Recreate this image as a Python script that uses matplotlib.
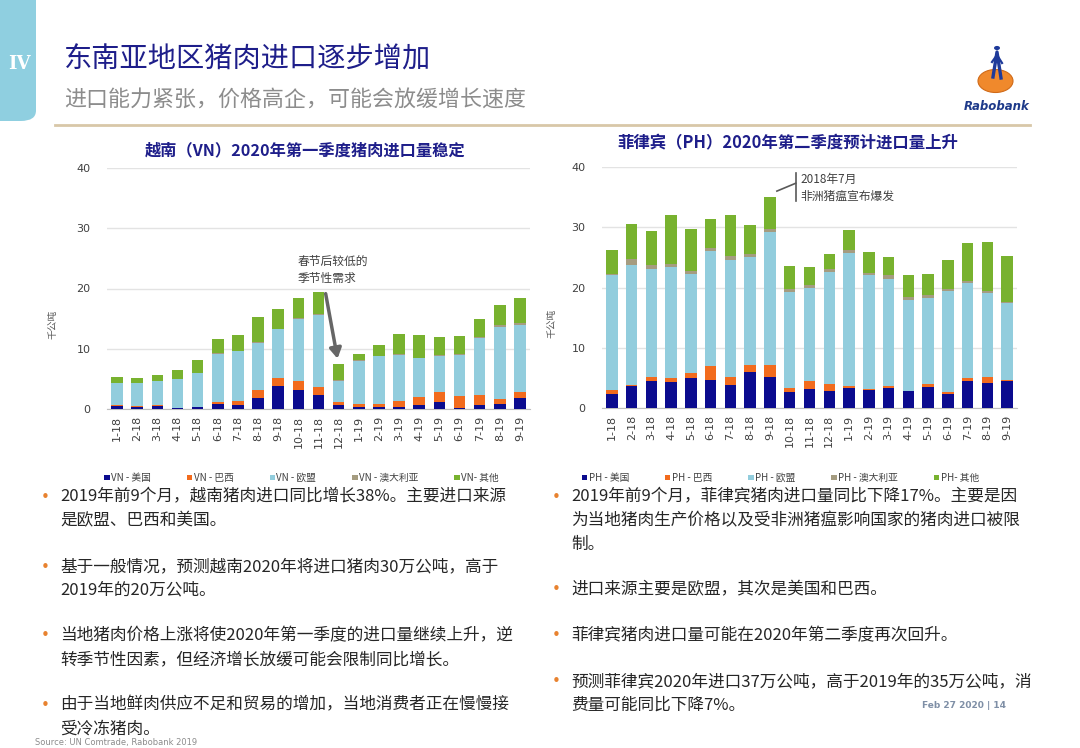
import matplotlib
matplotlib.use("Agg")
import matplotlib.pyplot as plt
from matplotlib.patches import FancyBboxPatch, Circle, Ellipse
import numpy as np

plt.rcParams['font.family'] = ['Noto Sans CJK SC', 'DejaVu Sans']

months = ["1-18", "2-18", "3-18", "4-18", "5-18", "6-18", "7-18", "8-18", "9-18", "10-18", "11-18", "12-18",
          "1-19", "2-19", "3-19", "4-19", "5-19", "6-19", "7-19", "8-19", "9-19"]

# Vietnam (thousand tonnes)
vn_us = [0.55, 0.4, 0.5, 0.1, 0.3, 0.9, 0.6, 1.8, 3.8, 3.1, 2.4, 0.7, 0.4, 0.4, 0.3, 0.6, 1.1, 0.2, 0.7, 0.8, 1.8]
vn_br = [0.1, 0.1, 0.1, 0.1, 0.1, 0.3, 0.8, 1.3, 1.4, 1.6, 1.3, 0.4, 0.4, 0.5, 1.0, 1.4, 1.7, 1.9, 1.7, 0.8, 1.0]
vn_eu = [3.65, 3.8, 4.0, 4.7, 5.6, 8.0, 8.2, 7.9, 8.0, 10.3, 11.9, 3.6, 7.2, 7.9, 7.7, 6.4, 6.0, 6.9, 9.4, 12.0, 11.2]
vn_au = [0.05, 0.05, 0.05, 0.05, 0.05, 0.1, 0.1, 0.1, 0.1, 0.1, 0.1, 0.05, 0.05, 0.05, 0.1, 0.1, 0.1, 0.1, 0.1, 0.3, 0.2]
vn_ot = [0.9, 0.85, 1.05, 1.45, 2.05, 2.3, 2.5, 4.1, 3.3, 3.4, 3.8, 2.65, 1.15, 1.75, 3.4, 3.7, 3.1, 3.0, 3.1, 3.3, 4.3]

# Philippines (thousand tonnes)
ph_us = [2.3, 3.6, 4.5, 4.3, 4.9, 4.6, 3.8, 5.9, 5.2, 2.6, 3.1, 2.9, 3.3, 3.0, 3.3, 2.8, 3.5, 2.4, 4.4, 4.2, 4.4]
ph_br = [0.7, 0.3, 0.6, 0.7, 0.9, 2.3, 1.3, 1.2, 1.9, 0.8, 1.4, 1.1, 0.4, 0.1, 0.3, 0.1, 0.5, 0.2, 0.5, 0.9, 0.3]
ph_eu = [19.0, 19.9, 18.0, 18.4, 16.4, 19.2, 19.5, 17.9, 22.1, 15.9, 15.5, 18.5, 22.1, 18.9, 17.8, 15.1, 14.3, 16.8, 15.8, 14.0, 12.7]
ph_au = [0.3, 1.0, 0.6, 0.5, 0.5, 0.5, 0.7, 0.6, 0.5, 0.4, 0.4, 0.5, 0.4, 0.4, 0.6, 0.5, 0.4, 0.4, 0.4, 0.3, 0.2]
ph_ot = [4.0, 5.8, 5.6, 8.1, 7.0, 4.8, 6.8, 4.7, 5.4, 3.9, 3.0, 2.6, 3.3, 3.5, 3.0, 3.5, 3.5, 4.7, 6.3, 8.2, 7.7]

vn_labels = ["VN - 美国", "VN - 巴西", "VN - 欧盟", "VN - 澳大利亚", "VN- 其他"]
ph_labels = ["PH - 美国", "PH - 巴西", "PH - 欧盟", "PH - 澳大利亚", "PH- 其他"]
colors = ["#0B0B8E", "#F26B1D", "#92CDDD", "#A59C80", "#78B22F"]

W, H = 1080, 748
fig = plt.figure(figsize=(W / 100, H / 100), dpi=100)
fig.patch.set_facecolor("white")


def fx(px):
    return px / W


def fy(py):
    return 1 - py / H


# ---------- header ----------
tab = FancyBboxPatch((-0.02, fy(121)), fx(36) + 0.02, fy(0) - fy(121) + 0.03,
                     boxstyle="round,pad=0,rounding_size=0.014", transform=fig.transFigure,
                     facecolor="#8FCFE0", edgecolor="none", zorder=0)
fig.patches.append(tab)
fig.text(fx(19), fy(64), "IV", color="white", fontsize=13, fontweight="bold",
         family="DejaVu Serif", ha="center", va="center")
fig.text(fx(64), fy(60), "东南亚地区猪肉进口逐步增加", color="#1E1E8A", fontsize=20.3, ha="left", va="center")
fig.text(fx(64), fy(101), "进口能力紧张，价格高企，可能会放缓增长速度", color="#8C8C8C", fontsize=15.8,
         ha="left", va="center")
fig.add_artist(plt.Line2D([fx(55), fx(1030)], [fy(125), fy(125)], color="#D8C7A8", lw=2,
                          transform=fig.transFigure))
# logo
fig.patches.append(Ellipse((fx(995.5), fy(81)), 35 / W, 23 / H, transform=fig.transFigure,
                           facecolor="#F0892C", edgecolor="#D06A18", lw=0.8))
fig.add_artist(plt.Line2D([fx(993), fx(997), fx(1001)], [fy(77), fy(52), fy(78)], color="#1E3A9A",
                          lw=2.4, transform=fig.transFigure))
fig.add_artist(plt.Line2D([fx(992), fx(997), fx(1002)], [fy(62), fy(55), fy(63)], color="#1E3A9A",
                          lw=1.6, transform=fig.transFigure))
fig.patches.append(Circle((fx(997), fy(48)), 3 / W, transform=fig.transFigure,
                          facecolor="#1E3A9A", edgecolor="none"))
fig.text(fx(997), fy(107), "Rabobank", color="#1E3A8A", fontsize=8.5, fontweight="bold",
         style="italic", family="DejaVu Sans", ha="center", va="center")


# ---------- charts ----------
def draw_chart(rect, series, labels, title, title_xy, title_size, legend_y, legend_x, ylabel_x):
    ax = fig.add_axes(rect)
    x = np.arange(len(months))
    bottom = np.zeros(len(months))
    handles = []
    for vals, lab, col in zip(series, labels, colors):
        b = ax.bar(x, vals, width=0.58, bottom=bottom, color=col, label=lab, zorder=3)
        handles.append(b)
        bottom += np.array(vals)
    ax.set_ylim(0, 40)
    ax.set_xlim(-0.5, len(months) - 0.5)
    ax.set_yticks([0, 10, 20, 30, 40])
    ax.yaxis.grid(True, color="#E3E3E3", lw=1, zorder=0)
    ax.set_axisbelow(True)
    for s in ["top", "right", "left"]:
        ax.spines[s].set_visible(False)
    ax.spines["bottom"].set_color("#BFBFBF")
    ax.set_xticks(x)
    ax.set_xticklabels(months, rotation=90, family="DejaVu Sans", fontsize=8, color="#404040")
    ax.tick_params(axis="both", length=0, labelsize=8, labelcolor="#404040")
    ax.tick_params(axis="y", pad=12)
    ax.tick_params(axis="x", pad=5)
    for t in ax.get_yticklabels():
        t.set_family("DejaVu Sans")
    ax.set_ylabel("千公吨", fontsize=7, color="#595959")
    ax.yaxis.set_label_coords(ylabel_x, 0.35)
    fig.text(fx(title_xy[0]), fy(title_xy[1]), title, color="#1E1E8A", fontsize=title_size,
             fontweight="bold", ha="center", va="center")
    leg = ax.legend(handles=handles, loc="center",
                    bbox_to_anchor=(legend_x, (fy(legend_y) - rect[1]) / rect[3]),
                    ncol=5, frameon=False, fontsize=7, handlelength=0.55, handleheight=0.55,
                    handletextpad=0.15, columnspacing=3.7)
    for t in leg.get_texts():
        t.set_color("#404040")
    return ax


ax1 = draw_chart([fx(107), fy(409), fx(530) - fx(107), fy(168) - fy(409)],
                 [vn_us, vn_br, vn_eu, vn_au, vn_ot], vn_labels,
                 "越南（VN）2020年第一季度猪肉进口量稳定", (305, 150), 11.7, 478, 0.46, -0.118)
ax2 = draw_chart([fx(602), fy(408), fx(1017) - fx(602), fy(167) - fy(408)],
                 [ph_us, ph_br, ph_eu, ph_au, ph_ot], ph_labels,
                 "菲律宾（PH）2020年第二季度预计进口量上升", (788, 143), 11.8, 478, 0.43, -0.11)

# annotations
ax1.annotate("", xy=(10.97, 7.9), xytext=(10.33, 19.6),
             arrowprops=dict(arrowstyle="-|>,head_length=0.6,head_width=0.35", color="#666666", lw=2.5),
             zorder=5)
ax1.text(8.95, 25.6, "春节后较低的\n季节性需求", fontsize=8.5, color="#404040", ha="left", va="top",
         linespacing=1.4)
ax2.plot([8.35, 9.3], [36.0, 37.3], color="#595959", lw=1.2, clip_on=False, zorder=5)
ax2.plot([9.3, 9.3], [34.3, 39.0], color="#595959", lw=1.2, clip_on=False, zorder=5)
ax2.text(9.55, 39.0, "2018年7月\n非洲猪瘟宣布爆发", fontsize=8.5, color="#404040", ha="left", va="top",
         linespacing=1.4)

# ---------- bullets ----------
left_lines = [
    (497, "2019年前9个月，越南猪肉进口同比增长38%。主要进口来源", True),
    (521, "是欧盟、巴西和美国。", False),
    (567, "基于一般情况，预测越南2020年将进口猪肉30万公吨，高于", True),
    (590, "2019年的20万公吨。", False),
    (636, "当地猪肉价格上涨将使2020年第一季度的进口量继续上升，逆", True),
    (660, "转季节性因素，但经济增长放缓可能会限制同比增长。", False),
    (705, "由于当地鲜肉供应不足和贸易的增加，当地消费者正在慢慢接", True),
    (729, "受冷冻猪肉。", False),
]
right_lines = [
    (497, "2019年前9个月，菲律宾猪肉进口量同比下降17%。主要是因", True),
    (521, "为当地猪肉生产价格以及受非洲猪瘟影响国家的猪肉进口被限", False),
    (544, "制。", False),
    (590, "进口来源主要是欧盟，其次是美国和巴西。", True),
    (636, "菲律宾猪肉进口量可能在2020年第二季度再次回升。", True),
    (682, "预测菲律宾2020年进口37万公吨，高于2019年的35万公吨，消", True),
    (705, "费量可能同比下降7%。", False),
]
for (lines, bx, tx) in [(left_lines, 45, 60), (right_lines, 556, 571)]:
    for yy, txt, bul in lines:
        if bul:
            fig.text(fx(bx), fy(yy), "•", color="#E8822F", fontsize=11, ha="center", va="center",
                     family="DejaVu Sans")
        fig.text(fx(tx), fy(yy), txt, color="#262626", fontsize=12.0, ha="left", va="center")

fig.text(fx(35), fy(743), "Source: UN Comtrade, Rabobank 2019", color="#8C8C8C", fontsize=6,
         ha="left", va="center", family="DejaVu Sans")
fig.text(fx(1006), fy(706), "Feb 27 2020 | 14", color="#7F8FA6", fontsize=6.5, ha="right", va="center",
         family="DejaVu Sans", fontweight="bold")

fig.savefig("out.png", dpi=100)
